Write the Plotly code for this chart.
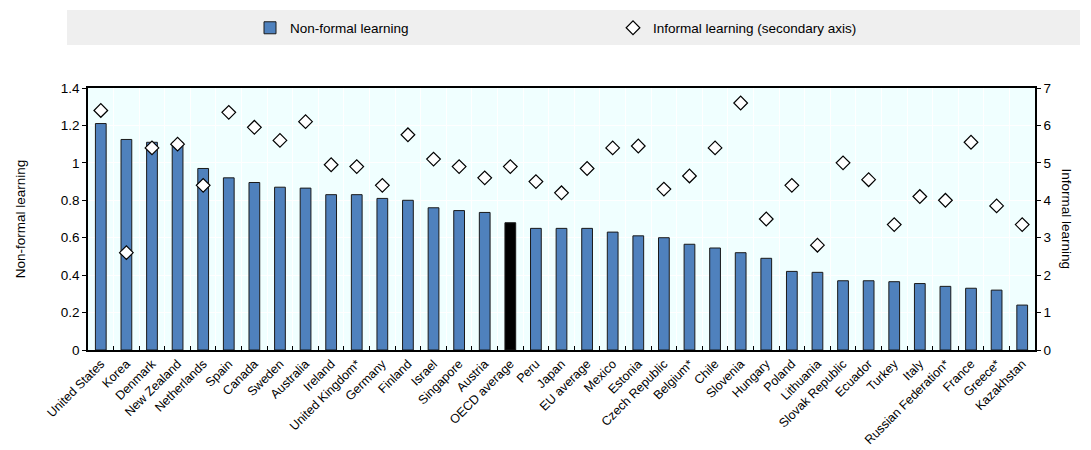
import plotly.graph_objects as go

countries = [
    "United States", "Korea", "Denmark", "New Zealand", "Netherlands", "Spain",
    "Canada", "Sweden", "Australia", "Ireland", "United Kingdom*", "Germany",
    "Finland", "Israel", "Singapore", "Austria", "OECD average", "Peru", "Japan",
    "EU average", "Mexico", "Estonia", "Czech Republic", "Belgium*", "Chile",
    "Slovenia", "Hungary", "Poland", "Lithuania", "Slovak Republic", "Ecuador",
    "Turkey", "Italy", "Russian Federation*", "France", "Greece*", "Kazakhstan",
]
non_formal = [
    1.21, 1.125, 1.11, 1.11, 0.97, 0.92, 0.895, 0.87, 0.865, 0.83, 0.83, 0.81,
    0.80, 0.76, 0.745, 0.735, 0.68, 0.65, 0.65, 0.65, 0.63, 0.61, 0.60, 0.565,
    0.545, 0.52, 0.49, 0.42, 0.415, 0.37, 0.37, 0.365, 0.355, 0.34, 0.33, 0.32,
    0.24,
]
informal = [
    6.4, 2.6, 5.4, 5.5, 4.4, 6.35, 5.95, 5.6, 6.1, 4.95, 4.9, 4.4, 5.75, 5.1,
    4.9, 4.6, 4.9, 4.5, 4.2, 4.85, 5.4, 5.45, 4.3, 4.65, 5.4, 6.6, 3.5, 4.4,
    2.8, 5.0, 4.55, 3.35, 4.1, 4.0, 5.55, 3.85, 3.35,
]

BLUE = "#4F81BD"
bar_colors = ["#000000" if c == "OECD average" else BLUE for c in countries]

fig = go.Figure()
fig.add_trace(go.Bar(
    x=countries, y=non_formal, name="Non-formal learning",
    marker=dict(color=bar_colors, line=dict(color="#1a1a1a", width=1)),
    width=0.42,
))
fig.add_trace(go.Scatter(
    x=countries, y=informal, name="Informal learning (secondary axis)",
    mode="markers", yaxis="y2",
    marker=dict(symbol="diamond", size=10.5, color="white",
                line=dict(color="black", width=1.2)),
))

font = dict(family="Liberation Sans, Arial, sans-serif", size=13.5, color="#000000")
xfont = dict(font, size=12.5)

L, R, T, B = 88, 56, 88, 100
PW, PH = 1091 - L - R, 450 - T - B

fig.update_layout(
    width=1091, height=450,
    margin=dict(l=L, r=R, t=T, b=B, autoexpand=False),
    paper_bgcolor="white",
    plot_bgcolor="#F0FFFF",
    font=font,
    showlegend=True,
    legend=dict(
        orientation="h", xref="container", x=250 / 1091, xanchor="left",
        y=1 - 28 / 450, yanchor="middle", yref="container",
        entrywidth=318, entrywidthmode="pixels",
        itemwidth=30, font=font, bgcolor="rgba(0,0,0,0)",
        traceorder="normal",
    ),
    xaxis=dict(
        type="category", tickangle=-45, tickson="boundaries",
        ticks="inside", ticklen=4, tickcolor="black",
        showgrid=True, gridcolor="white", gridwidth=1,
        showline=True, linecolor="black", linewidth=1.5, mirror=True,
        tickfont=xfont, range=[-0.5, len(countries) - 0.5], automargin=False,
    ),
    yaxis=dict(
        range=[0, 1.4], dtick=0.2, tickformat="~g",
        ticks="outside", ticklen=4, tickcolor="black",
        showgrid=True, gridcolor="white", gridwidth=1,
        showline=True, linecolor="black", linewidth=1.5,
        zeroline=False, tickfont=font, automargin=False,
        title=dict(text="Non-formal learning", font=font, standoff=32),
    ),
    yaxis2=dict(
        range=[0, 7], dtick=1, overlaying="y", side="right",
        ticks="outside", ticklen=4, tickcolor="black",
        showgrid=False, showline=True, linecolor="black", linewidth=1.5,
        zeroline=False, tickfont=font, automargin=False,
    ),
)

# grey band behind the legend
fig.add_shape(
    type="rect", xref="paper", yref="paper", layer="below",
    x0=(67 - L) / PW, x1=(1080 - L) / PW,
    y0=(450 - B - 45) / PH, y1=(450 - B - 10) / PH,
    fillcolor="#EFEFEF", line=dict(width=0),
)

# right-hand axis title, reading top to bottom
fig.add_annotation(
    text="Informal learning", xref="paper", yref="paper",
    x=(1076 - L) / PW, y=0.5, textangle=90,
    showarrow=False, font=font,
)

fig.write_html("out.html")
